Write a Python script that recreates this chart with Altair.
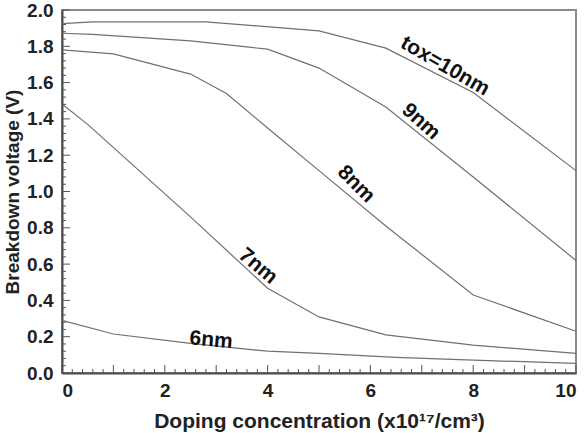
import altair as alt
import pandas as pd

# ---- data ----
tox_names = ["10nm", "9nm", "8nm", "7nm", "6nm"]
x10 = [0, 0.6, 2.8, 5, 6.3, 8, 10]
y10 = [1.925, 1.935, 1.935, 1.885, 1.79, 1.545, 1.115]
x9 = [0, 0.6, 2.5, 4, 5, 6.3, 8, 10]
y9 = [1.872, 1.866, 1.83, 1.784, 1.68, 1.465, 1.08, 0.62]
x8 = [0, 1, 2.5, 3.2, 4, 5, 6.3, 8, 10]
y8 = [1.78, 1.758, 1.647, 1.54, 1.35, 1.115, 0.81, 0.43, 0.23]
x7 = [0, 0.5, 2.5, 4, 5, 6.3, 8, 10]
y7 = [1.482, 1.37, 0.86, 0.467, 0.309, 0.21, 0.154, 0.108]
x6 = [0, 1, 2.5, 4, 5, 6.5, 8, 10]
y6 = [0.29, 0.215, 0.163, 0.12, 0.108, 0.086, 0.071, 0.053]

lbl_text = ["tox=10nm", "9nm", "8nm", "7nm", "6nm"]
lbl_x = [7.45, 6.98, 5.72, 3.81, 2.9]
lbl_y = [1.69, 1.385, 1.04, 0.588, 0.181]
lbl_angle = [30, 42, 45, 40, 5]

x_tick_labels = [0, 2, 4, 6, 8, 10]
y_tick_labels = [0.0, 0.2, 0.4, 0.6, 0.8, 1.0, 1.2, 1.4, 1.6, 1.8, 2.0]
x_major_ticks = [0, 1, 2, 3, 4, 5, 6, 7, 8, 9, 10]
x_minor_ticks = [round(i * 0.2, 2) for i in range(51) if i % 5 != 0]
y_major_ticks = y_tick_labels
y_minor_ticks = [round(i * 0.04, 2) for i in range(51) if i % 5 != 0]

# ---- tables ----
rows = []
for name, xs_, ys_ in zip(tox_names, [x10, x9, x8, x7, x6], [y10, y9, y8, y7, y6]):
    for a, b in zip(xs_, ys_):
        rows.append({"tox": name, "x": a, "y": b})
df = pd.DataFrame(rows)
labels = pd.DataFrame({"t": lbl_text, "x": lbl_x, "y": lbl_y, "a": lbl_angle})

W, H = 514, 363
FONT = "Liberation Sans"
xs = alt.Scale(domain=[0, 10], nice=False)
ys = alt.Scale(domain=[0, 2], nice=False)
common = dict(
    ticks=False, grid=False,
    labelFont=FONT, labelFontWeight="bold", labelFontSize=19, labelColor="#222",
    titleFont=FONT, titleFontWeight="bold", titleColor="#222",
    domainColor="#4a4a4a", domainWidth=2,
)
xaxis = alt.Axis(values=x_tick_labels, format="d", title="Doping concentration (x10¹⁷/cm³)",
                 labelPadding=8, titlePadding=10, titleFontSize=21, **common)
yaxis = alt.Axis(values=y_tick_labels, format=".1f", title="Breakdown voltage (V)",
                 labelPadding=9, titlePadding=4, titleFontSize=19, **common)

lines = alt.Chart(df).mark_line(color="#707070", strokeWidth=1.2).encode(
    x=alt.X("x:Q", scale=xs, axis=xaxis),
    y=alt.Y("y:Q", scale=ys, axis=yaxis),
    detail="tox:N",
)

def yticks(vals, length):
    return alt.Chart(pd.DataFrame({"y": vals})).mark_rule(color="#555", strokeWidth=1).encode(
        y=alt.Y("y:Q", scale=ys, axis=yaxis), x=alt.value(0), x2=alt.value(length))

def xticks(vals, length):
    return alt.Chart(pd.DataFrame({"x": vals})).mark_rule(color="#555", strokeWidth=1).encode(
        x=alt.X("x:Q", scale=xs, axis=xaxis), y=alt.value(H), y2=alt.value(H - length))

text = alt.Chart(labels).mark_text(font=FONT, fontWeight="bold", fontSize=21, color="#111").encode(
    x=alt.X("x:Q", scale=xs, axis=xaxis),
    y=alt.Y("y:Q", scale=ys, axis=yaxis),
    text="t:N",
    angle=alt.Angle("a:Q", scale=None),
)

chart = alt.layer(
    lines, yticks(y_major_ticks, 8), yticks(y_minor_ticks, 4),
    xticks(x_major_ticks, 8), xticks(x_minor_ticks, 4), text
).properties(
    width=W, height=H,
    padding={"left": 62, "top": 10, "right": 11, "bottom": 60},
    autosize="none",
    background="white",
).configure_view(
    stroke="#8a8a8a", strokeWidth=2
)

chart.save("out.html", embed_options={"renderer": "svg", "actions": False})
